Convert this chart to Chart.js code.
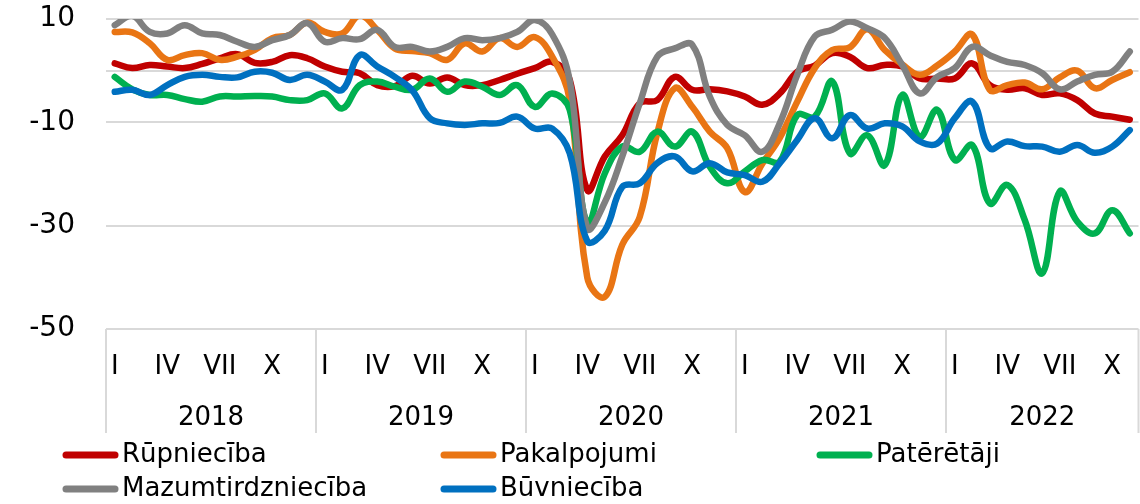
<!DOCTYPE html>
<html>
<head>
<meta charset="utf-8">
<script src="https://cdn.jsdelivr.net/npm/chart.js@4"></script>
<style>
  html, body { margin: 0; padding: 0; background: #fff; }
</style>
</head>
<body>
<canvas id="chart" width="1140" height="504"></canvas>
<script>
// data: monthly, Jan 2018 - Nov 2022
const years = ['2018', '2019', '2020', '2021', '2022'];
const monthNames = ['I', 'II', 'III', 'IV', 'V', 'VI', 'VII', 'VIII', 'IX', 'X', 'XI', 'XII'];
const shownMonths = ['I', 'IV', 'VII', 'X'];
const monthCount = 59;

const rupnieciba = [
  1.4, 0.5, 1.1, 0.8, 0.5, 1.3, 2.4, 3.2, 1.5, 1.7, 3.0, 2.4,
  0.8, -0.2, -0.5, -2.8, -3.0, -1.0, -2.5, -1.3, -2.8, -2.8, -1.8, -0.6,
  0.5, 1.7, -1.8, -23.1, -16.6, -12.5, -6.3, -5.7, -1.2, -3.7, -3.6, -4.0,
  -5.0, -6.6, -4.4, -0.2, 1.0, 3.4, 2.7, 0.5, 1.1, 0.8, -1.5, -1.5,
  -1.5, 1.4, -2.8, -3.7, -3.4, -4.7, -4.4, -5.7, -8.3, -8.9, -9.5
];
const pakalpojumi = [
  7.5, 7.4, 5.3, 2.1, 3.0, 3.4, 2.1, 2.7, 4.0, 6.3, 6.9, 9.3,
  7.5, 7.2, 10.7, 7.9, 4.3, 3.8, 3.4, 2.1, 5.3, 3.7, 6.3, 4.6,
  6.5, 2.7, -5.7, -40.0, -43.8, -33.7, -28.3, -12.1, -3.4, -7.0, -11.8, -15.0,
  -23.5, -18.0, -13.0, -6.0, 0.5, 4.0, 4.5, 8.0, 4.0, 1.2, -0.8, 1.0,
  3.7, 7.0, -3.7, -2.8, -2.3, -3.6, -1.3, 0.0, -3.4, -1.8, -0.3
];
const pateretaji = [
  -1.2, -3.6, -4.7, -4.7, -5.5, -6.0, -5.0, -5.0, -4.9, -5.0, -5.7, -5.7,
  -4.4, -7.3, -2.8, -2.1, -3.1, -3.7, -1.5, -4.1, -2.1, -3.1, -4.7, -2.8,
  -7.0, -4.4, -7.6, -29.5, -19.9, -14.7, -15.7, -11.8, -14.7, -11.8, -18.6, -21.8,
  -19.5, -17.3, -17.6, -8.6, -8.9, -2.1, -16.0, -12.5, -18.3, -4.7, -12.8, -7.6,
  -17.3, -14.4, -25.7, -22.1, -28.9, -39.2, -23.4, -29.2, -31.5, -27.0, -31.5
];
const mazumtirdznieciba = [
  8.8, 10.6, 7.5, 7.2, 8.8, 7.2, 6.9, 5.6, 4.6, 5.9, 6.9, 9.2,
  5.6, 6.3, 6.1, 7.9, 4.6, 4.6, 3.7, 4.6, 6.3, 5.9, 6.3, 7.5,
  9.8, 7.0, -2.0, -30.5, -25.5, -16.6, -6.3, 2.7, 4.3, 5.0, -5.0, -10.5,
  -12.5, -15.7, -10.2, -0.8, 6.6, 7.9, 9.5, 8.2, 6.3, 1.1, -4.4, -1.2,
  0.5, 4.6, 3.0, 1.7, 1.1, -0.5, -3.6, -2.1, -0.8, -0.2, 3.7
];
const buvnieciba = [
  -4.1, -3.7, -4.7, -2.8, -1.2, -0.8, -1.2, -1.3, -0.2, -0.4, -1.8, -0.8,
  -2.1, -3.7, 3.0, 0.8, -1.2, -3.8, -9.2, -10.2, -10.5, -10.2, -10.1, -8.9,
  -11.2, -11.2, -16.0, -33.0, -31.0, -22.5, -21.8, -17.9, -16.6, -19.5, -17.9, -19.7,
  -20.2, -21.5, -17.9, -13.4, -9.2, -13.1, -8.6, -11.2, -10.2, -10.8, -13.7, -14.1,
  -9.2, -6.0, -15.0, -13.7, -14.6, -14.7, -15.7, -14.4, -15.9, -14.7, -11.5
];

const seriesNames = ['Rūpniecība', 'Pakalpojumi', 'Patērētāji', 'Mazumtirdzniecība', 'Būvniecība'];
const seriesData = [rupnieciba, pakalpojumi, pateretaji, mazumtirdznieciba, buvnieciba];
const seriesColors = ['#C00000', '#E97514', '#00B050', '#808080', '#0070C0'];

const yLabels = [10, -10, -30, -50];

const categories = [];
years.forEach((y) => monthNames.forEach((m) => categories.push(m)));
categories.length = monthCount;

Chart.defaults.font.family = '"DejaVu Sans", Verdana, sans-serif';
Chart.defaults.color = '#000';

// multi level category axis + legend drawn by hand
const axisPlugin = {
  id: 'axisPlugin',
  afterDraw(chart) {
    const { ctx, chartArea } = chart;
    const x = chart.scales.x;
    const step = x.getPixelForValue(1) - x.getPixelForValue(0);
    const bottom = chartArea.bottom;
    ctx.save();
    ctx.strokeStyle = '#d9d9d9';
    ctx.lineWidth = 2;
    const bounds = [chartArea.left];
    for (let k = 1; k < years.length; k++) bounds.push(x.getPixelForValue(k * 12) - step / 2);
    bounds.push(chartArea.right);
    bounds.forEach((b) => {
      ctx.beginPath();
      ctx.moveTo(b, bottom);
      ctx.lineTo(b, bottom + 104);
      ctx.stroke();
    });

    ctx.fillStyle = '#000';
    ctx.textAlign = 'center';
    ctx.textBaseline = 'middle';
    ctx.font = '26px "DejaVu Sans"';
    categories.forEach((m, i) => {
      if (shownMonths.includes(m)) ctx.fillText(m, x.getPixelForValue(i), bottom + 38);
    });
    years.forEach((y, k) => {
      ctx.fillText(y, (bounds[k] + bounds[k + 1]) / 2, bottom + 89);
    });

    // legend
    const cols = [62, 440, 816];
    const rows = [455, 489];
    ctx.textAlign = 'left';
    ctx.lineCap = 'round';
    ctx.lineWidth = 7;
    seriesNames.forEach((name, i) => {
      const lx = cols[i % 3];
      const ly = rows[Math.floor(i / 3)];
      ctx.strokeStyle = seriesColors[i];
      ctx.beginPath();
      ctx.moveTo(lx + 4, ly);
      ctx.lineTo(lx + 53, ly);
      ctx.stroke();
      ctx.fillText(name, lx + 60, ly);
    });
    ctx.restore();
  },
};

new Chart(document.getElementById('chart'), {
  type: 'line',
  data: {
    labels: categories,
    datasets: seriesData.map((values, i) => ({
      label: seriesNames[i],
      data: values,
      borderColor: seriesColors[i],
      backgroundColor: seriesColors[i],
      borderWidth: 6.5,
      pointRadius: 0,
      tension: 0.4,
      borderCapStyle: 'round',
      borderJoinStyle: 'round',
      fill: false,
      order: seriesData.length - i,
    })),
  },
  options: {
    responsive: false,
    animation: false,
    devicePixelRatio: 1,
    layout: { padding: { top: 19, right: 1.5, left: 0, bottom: 0 } },
    plugins: {
      legend: { display: false },
      tooltip: { enabled: false },
    },
    scales: {
      x: {
        type: 'category',
        offset: true,
        ticks: { display: false },
        grid: { display: false, offset: true },
        border: { display: false },
        afterFit(scale) { scale.height = 175; },
      },
      y: {
        min: -50,
        max: 10,
        ticks: {
          stepSize: 10,
          padding: 31,
          font: { size: 28 },
          color: '#000',
          callback: (v) => (yLabels.includes(v) ? String(v) : ''),
        },
        grid: {
          drawTicks: false,
          lineWidth: 2,
          color: (c) => (c.tick && (c.tick.value === -20 || c.tick.value === -40) ? 'rgba(0,0,0,0)' : '#d9d9d9'),
        },
        border: { display: false },
        afterFit(scale) {
          scale.width = 106;
          scale.paddingTop = 0;
          scale.paddingBottom = 0;
        },
      },
    },
  },
  plugins: [axisPlugin],
});
</script>
</body>
</html>
